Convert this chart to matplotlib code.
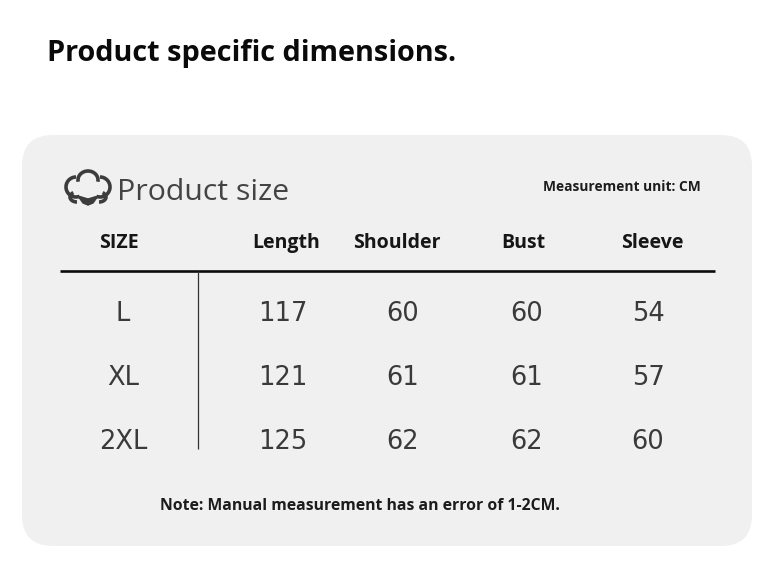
import matplotlib
matplotlib.use("Agg")
import matplotlib.pyplot as plt
from matplotlib.patches import FancyBboxPatch, Arc, Polygon

plt.rcParams['font.family'] = ['Open Sans', 'DejaVu Sans']

title = "Product specific dimensions."
heading = "Product size"
unit_note = "Measurement unit: CM"
footer = "Note: Manual measurement has an error of 1-2CM."

columns = ["SIZE", "Length", "Shoulder", "Bust", "Sleeve"]
sizes = ["L", "XL", "2XL"]
length = [117, 121, 125]
shoulder = [60, 61, 62]
bust = [60, 61, 62]
sleeve = [54, 57, 60]

col_x = [119, 286, 397, 523, 652]
val_x = [123, 283, 403, 527, 648]
row_y = [312, 376, 440]

fig = plt.figure(figsize=(7.73, 5.86), dpi=100)
ax = fig.add_axes([0, 0, 1, 1])
ax.set_xlim(0, 773)
ax.set_ylim(586, 0)
ax.axis('off')

# grey card
ax.add_patch(FancyBboxPatch((22, 135), 730, 411, boxstyle="round,pad=0,rounding_size=31",
                            fc='#f0f0f0', ec='none', zorder=0))

ax.text(47, 54, title, fontsize=20.8, fontweight='bold', color='#0a0a0a', va='center', ha='left')

# cotton icon
ic = '#3c3c3c'
for cx, cy, w, h, a, b in [(76, 187, 20, 20, 70, 270), (88, 180, 20, 18, 170, 370),
                           (100, 187, 20, 20, 270, 110), (77, 197, 14, 10, 90, 230),
                           (99, 197, 14, 10, 310, 90)]:
    ax.add_patch(Arc((cx, cy), w, h, theta1=a, theta2=b, color=ic, lw=2.6, zorder=2))
ax.add_patch(Polygon([(78, 196), (88, 199), (88, 205), (83, 203)], fc=ic, ec=ic, lw=1))
ax.add_patch(Polygon([(98, 196), (88, 199), (88, 205), (93, 203)], fc=ic, ec=ic, lw=1))

ax.text(117, 192, heading, fontsize=21.8, color='#444444', va='center', ha='left')
ax.text(701, 187, unit_note, fontsize=9.9, fontweight='bold', color='#1c1c1c', va='center', ha='right')

for x, c in zip(col_x, columns):
    ax.text(x, 243, c, fontsize=14, fontweight='bold', color='#161616', va='center', ha='center')

ax.plot([60, 715], [270.5, 270.5], color='#0c0c0c', lw=1.9, solid_capstyle='butt')
ax.plot([198, 198], [271, 449], color='#333333', lw=0.9, solid_capstyle='butt')

for i, y in enumerate(row_y):
    row = [sizes[i], length[i], shoulder[i], bust[i], sleeve[i]]
    for x, v in zip(val_x, row):
        ax.text(x, y + 2, str(v), fontsize=18.5, color='#3a3a3a', va='center', ha='center',
                fontfamily=['DejaVu Sans'])

ax.text(360, 506, footer, fontsize=11.35, fontweight='bold', color='#1c1c1c', va='center', ha='center')

fig.savefig('out.png', dpi=100, facecolor='white')
